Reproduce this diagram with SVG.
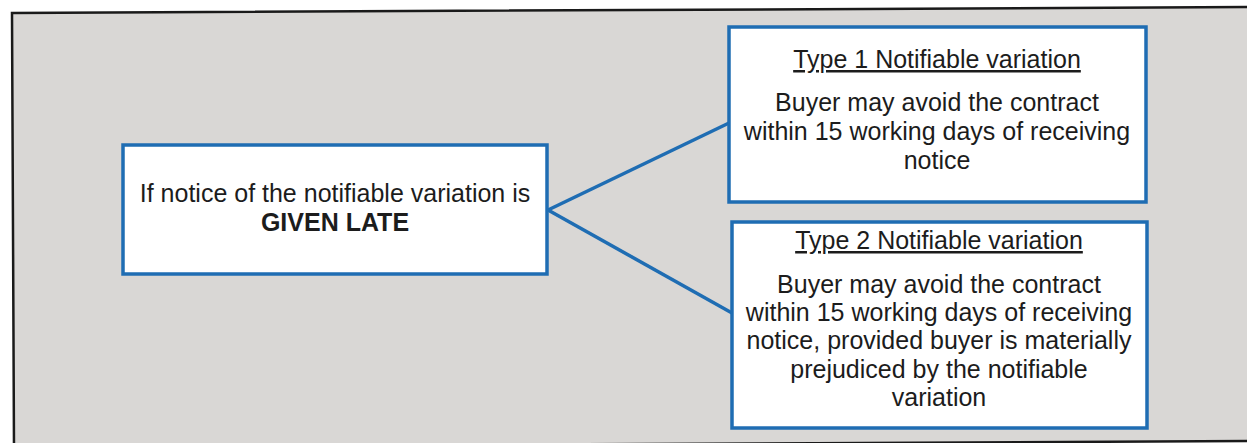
<svg xmlns="http://www.w3.org/2000/svg" width="1247" height="443" viewBox="0 0 1247 443">
<style>
.box{fill:#ffffff;stroke:#1f6db3;stroke-width:3.5}
.t{font-family:"Liberation Sans",Arial,sans-serif;font-size:25px;fill:#1c1c1c;text-anchor:middle}
.b{font-weight:bold}
.u{text-decoration:underline}
.conn{stroke:#1f6db3;stroke-width:3.5;fill:none}
</style>
<rect x="0" y="0" width="1247" height="443" fill="#ffffff"/>
<polygon points="12,13 1260,7 1260,441 14,447" fill="#d9d7d5" stroke="#1a1a1a" stroke-width="2.5"/>
<g id="connectors">
<line class="conn" x1="548" y1="210" x2="729" y2="123"/>
<line class="conn" x1="548" y1="210" x2="732" y2="313"/>
</g>
<g id="node-given-late">
<rect class="box" x="123" y="145" width="424" height="129"/>
<text class="t" x="335" y="202">If notice of the notifiable variation is</text>
<text class="t b" x="335" y="231">GIVEN LATE</text>
</g>
<g id="node-type1">
<rect class="box" x="729" y="27" width="417" height="175"/>
<text class="t u" x="937" y="68">Type 1 Notifiable variation</text>
<text class="t" x="937" y="111">Buyer may avoid the contract</text>
<text class="t" x="937" y="140">within 15 working days of receiving</text>
<text class="t" x="937" y="169">notice</text>
</g>
<g id="node-type2">
<rect class="box" x="732" y="222" width="415" height="206"/>
<text class="t u" x="939" y="249">Type 2 Notifiable variation</text>
<text class="t" x="939" y="293">Buyer may avoid the contract</text>
<text class="t" x="939" y="321">within 15 working days of receiving</text>
<text class="t" x="939" y="349">notice, provided buyer is materially</text>
<text class="t" x="939" y="378">prejudiced by the notifiable</text>
<text class="t" x="939" y="406">variation</text>
</g>
</svg>
